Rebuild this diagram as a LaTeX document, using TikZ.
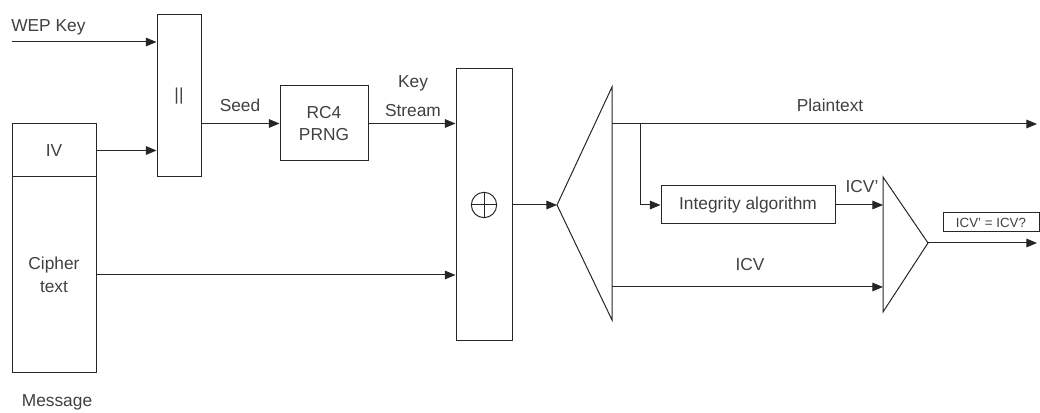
\documentclass[tikz,border=0pt]{standalone}
\usepackage{fontspec}
\setmainfont{Liberation Sans}
\usetikzlibrary{arrows.meta}
\begin{document}
\begin{tikzpicture}[x=0.75pt,y=-0.75pt,
  ln/.style={draw=black!85,line width=0.75pt},
  arr/.style={ln,-{Triangle[length=8pt,width=6.5pt]}},
  blk/.style={draw=black!85,line width=0.75pt,inner sep=0pt,align=center,text=black!75},
  lbl/.style={inner sep=0pt,text=black!75,align=center},
  font=\fontsize{13}{17}\selectfont]
\useasboundingbox (0,0) rectangle (1040,413);
% boxes
\node[blk,minimum width=33pt,minimum height=121.5pt] (cat) at (179,96) {||};
\node[blk,minimum width=63pt,minimum height=39.75pt] (iv) at (54,150.5) {IV};
\node[blk,minimum width=63pt,minimum height=147pt] (ct) at (54,275) {Cipher\\text};
\node[blk,minimum width=66pt,minimum height=56.25pt] (rc4) at (324,123.5) {RC4\\PRNG};
\node[blk,minimum width=42pt,minimum height=204pt] (xor) at (484,205) {};
\node[draw=black!85,line width=0.75pt,circle,inner sep=0pt,minimum size=19pt] (xs) at (xor.center) {};
\draw[ln] (xs.north) -- (xs.south) (xs.west) -- (xs.east);
\node[blk,minimum width=130.5pt,minimum height=28.5pt] (integ) at (748,205) {Integrity algorithm};
\node[blk,minimum width=72pt,minimum height=14.25pt,font=\fontsize{10}{12}\selectfont] (chk) at (991,222.5) {ICV' = ICV?};
% triangles
\coordinate (dtip) at (557,205);
\coordinate (dtop) at (612,87);
\coordinate (dbot) at (612,320);
\draw[ln,line join=miter] (dtop) -- (dtip) -- (dbot) -- cycle;
\coordinate (ctop) at (883,177);
\coordinate (ctip) at (928,243);
\coordinate (cbot) at (883,312);
\draw[ln,line join=miter] (ctop) -- (ctip) -- (cbot) -- cycle;
% coordinates
\coordinate (wk) at (12,42);
\coordinate (pt0) at (612,124);
\coordinate (ptend) at (1037,124);
\coordinate (br) at (640,124);
\coordinate (icv0) at (612,287);
\coordinate (outend) at (1037,243);
% connectors
\draw[arr] (wk) -- (wk -| cat.west);
\draw[arr] (iv.east) -- (iv.east -| cat.west);
\draw[arr] (rc4.west -| cat.east) -- (rc4.west);
\draw[arr] (rc4.east) -- (rc4.east -| xor.west);
\draw[arr] (ct.east) -- (ct.east -| xor.west);
\draw[arr] (xor.east) -- (dtip);
\draw[arr] (pt0) -- (ptend);
\draw[arr] (br) |- (integ.west);
\draw[arr] (integ.east) -- (integ.east -| ctop);
\draw[arr] (icv0) -- (icv0 -| ctop);
\draw[arr] (ctip) -- (outend);
% labels
\node[lbl,anchor=west] (lwk) at (11,27) {WEP Key};
\node[lbl] (lseed) at (240,105) {Seed};
\node[lbl,font=\fontsize{13}{21.5}\selectfont] (lks) at (413,96) {Key\\Stream};
\node[lbl] (lpt) at (830,105) {Plaintext};
\node[lbl] (licvp) at (862,187) {ICV'};
\node[lbl] (licv) at (750,265) {ICV};
\node[lbl] (lmsg) at (57,402) {Message};
\end{tikzpicture}
\end{document}
